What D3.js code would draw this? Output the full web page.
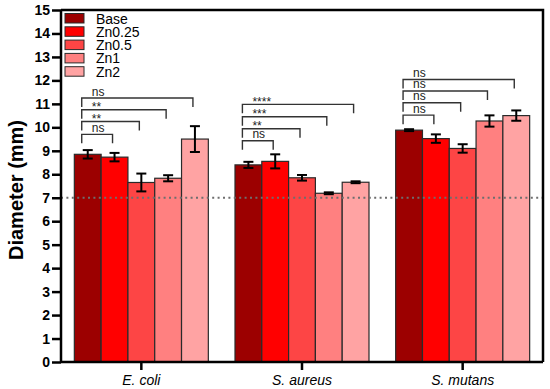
<!DOCTYPE html>
<html>
<head>
<meta charset="utf-8">
<script src="https://cdn.jsdelivr.net/npm/d3@7"></script>
<style>
  body { margin: 0; background: #fff; }
  text { font-family: "Liberation Sans", Arial, sans-serif; }
</style>
</head>
<body>
<div id="chart"></div>
<script>
// Chart data
const groups = ["E. coli", "S. aureus", "S. mutans"];
const series = ["Base", "Zn0.25", "Zn0.5", "Zn1", "Zn2"];
const colors = ["#9c0000", "#ff0000", "#fd4545", "#ff8080", "#ffa3a3"];

// mean diameter per group (rows) and series (columns)
const means = [
  [8.85, 8.73, 7.65, 7.83, 9.50],
  [8.40, 8.55, 7.85, 7.19, 7.66],
  [9.88, 9.52, 9.10, 10.27, 10.50]
];
const errors = [
  [0.18, 0.18, 0.38, 0.13, 0.55],
  [0.13, 0.30, 0.12, 0.04, 0.04],
  [0.04, 0.18, 0.18, 0.24, 0.22]
];

// significance brackets: group index, compared series index, label, height (mm)
const brackets = [
  [0, 1, "ns", 9.70], [0, 2, "**", 10.25], [0, 3, "**", 10.75], [0, 4, "ns", 11.25],
  [1, 1, "ns", 9.43], [1, 2, "**", 9.94], [1, 3, "***", 10.45], [1, 4, "****", 10.98],
  [2, 1, "ns", 10.52], [2, 2, "ns", 11.05], [2, 3, "ns", 11.55], [2, 4, "ns", 12.04]
];

const yTicks = d3.range(0, 16, 1);
const refLine = 7;

// Define "SVG"
const svgWidth = 550;
const svgHeight = 389;
const margin = { top: 10, right: 7, bottom: 27, left: 61 };
const chartWidth = svgWidth - margin.left - margin.right;
const chartHeight = svgHeight - margin.top - margin.bottom;

const svg = d3.select("#chart")
  .append("svg")
  .attr("width", svgWidth)
  .attr("height", svgHeight);

const chartGroup = svg.append("g")
  .attr("transform", `translate(${margin.left}, ${margin.top})`);

// scales
const x0 = d3.scaleBand()
  .domain(groups)
  .range([0, chartWidth])
  .paddingInner(0.166)
  .paddingOuter(0.083);

const x1 = d3.scaleBand()
  .domain(series)
  .range([0, x0.bandwidth()]);

const yScale = d3.scaleLinear()
  .domain([0, 15])
  .range([chartHeight, 0]);

// flatten data for bars
const rows = [];
groups.forEach((g, gi) => {
  series.forEach((s, si) => {
    rows.push({ group: g, series: s, si: si, value: means[gi][si], err: errors[gi][si] });
  });
});

// bars
chartGroup.selectAll("rect.bar")
  .data(rows)
  .enter()
  .append("rect")
  .attr("class", "bar")
  .attr("x", d => x0(d.group) + x1(d.series))
  .attr("y", d => yScale(d.value))
  .attr("width", x1.bandwidth())
  .attr("height", d => chartHeight - yScale(d.value))
  .attr("fill", d => colors[d.si])
  .attr("stroke", "#2a2a2a")
  .attr("stroke-width", 1.2);

// reference dotted line
chartGroup.append("line")
  .attr("x1", 0)
  .attr("x2", chartWidth)
  .attr("y1", yScale(refLine))
  .attr("y2", yScale(refLine))
  .attr("stroke", "#6e6e6e")
  .attr("stroke-width", 2)
  .attr("stroke-dasharray", "2,3.4");

// error bars
const capHalf = 5;
const errG = chartGroup.selectAll("g.err")
  .data(rows)
  .enter()
  .append("g")
  .attr("class", "err")
  .attr("transform", d => `translate(${x0(d.group) + x1(d.series) + x1.bandwidth() / 2}, 0)`);

errG.append("line")
  .attr("x1", 0).attr("x2", 0)
  .attr("y1", d => yScale(d.value + d.err))
  .attr("y2", d => yScale(d.value - d.err))
  .attr("stroke", "#000").attr("stroke-width", 2);

errG.append("line")
  .attr("x1", -capHalf).attr("x2", capHalf)
  .attr("y1", d => yScale(d.value + d.err))
  .attr("y2", d => yScale(d.value + d.err))
  .attr("stroke", "#000").attr("stroke-width", 2);

errG.append("line")
  .attr("x1", -capHalf).attr("x2", capHalf)
  .attr("y1", d => yScale(d.value - d.err))
  .attr("y2", d => yScale(d.value - d.err))
  .attr("stroke", "#000").attr("stroke-width", 2);

// significance brackets
const tail = 9;
const bG = chartGroup.selectAll("g.bracket")
  .data(brackets)
  .enter()
  .append("g")
  .attr("class", "bracket");

const center = (gi, si) => x0(groups[gi]) + x1(series[si]) + x1.bandwidth() / 2;

bG.append("path")
  .attr("d", d => {
    const xa = center(d[0], 0) - 6;
    const xb = center(d[0], d[1]) - 2;
    const yy = yScale(d[3]);
    return `M${xa},${yy + tail}V${yy}H${xb}V${yy + tail}`;
  })
  .attr("fill", "none")
  .attr("stroke", "#333")
  .attr("stroke-width", 1.4);

bG.append("text")
  .attr("x", d => center(d[0], 0) + 4)
  .attr("y", d => d[2] === "ns" ? yScale(d[3]) - 2.5 : yScale(d[3]) + 1.5)
  .attr("font-size", 12)
  .attr("fill", "#222")
  .text(d => d[2]);

// axes
const leftAxis = d3.axisLeft(yScale)
  .tickValues(yTicks)
  .tickFormat(d3.format("d"))
  .tickSize(9)
  .tickPadding(2);

const bottomAxis = d3.axisBottom(x0)
  .tickSize(8)
  .tickPadding(5);

const yAxisG = chartGroup.append("g").call(leftAxis);
yAxisG.selectAll("text")
  .attr("font-size", 14)
  .attr("font-weight", "bold")
  .attr("fill", "#000");
yAxisG.selectAll("line, path").attr("stroke", "#000").attr("stroke-width", 2.5);

const xAxisG = chartGroup.append("g")
  .attr("transform", `translate(0, ${chartHeight})`)
  .call(bottomAxis);
xAxisG.selectAll("text")
  .attr("font-size", 14)
  .attr("font-style", "italic")
  .attr("fill", "#000");
xAxisG.selectAll("line, path").attr("stroke", "#000").attr("stroke-width", 2.5);
xAxisG.select("path.domain").attr("d", `M0,0H${chartWidth}`);
yAxisG.select("path.domain").attr("d", `M0,${chartHeight}V0`);

// top and right frame
chartGroup.append("path")
  .attr("d", `M0,0H${chartWidth}V${chartHeight}`)
  .attr("fill", "none")
  .attr("stroke", "#000")
  .attr("stroke-width", 2.5);

// y axis title
svg.append("text")
  .attr("transform", `translate(23, ${margin.top + chartHeight / 2 + 4}) rotate(-90)`)
  .attr("text-anchor", "middle")
  .attr("font-size", 20)
  .attr("font-weight", "bold")
  .text("Diameter (mm)");

// legend
const legend = chartGroup.selectAll("g.legend")
  .data(series)
  .enter()
  .append("g")
  .attr("class", "legend")
  .attr("transform", (d, i) => `translate(4, ${3.5 + i * 13.3})`);

legend.append("rect")
  .attr("width", 19)
  .attr("height", 9.5)
  .attr("fill", (d, i) => colors[i])
  .attr("stroke", "#2a2a2a")
  .attr("stroke-width", 1);

legend.append("text")
  .attr("x", 31)
  .attr("y", 10)
  .attr("font-size", 14)
  .text(d => d);
</script>
</body>
</html>
